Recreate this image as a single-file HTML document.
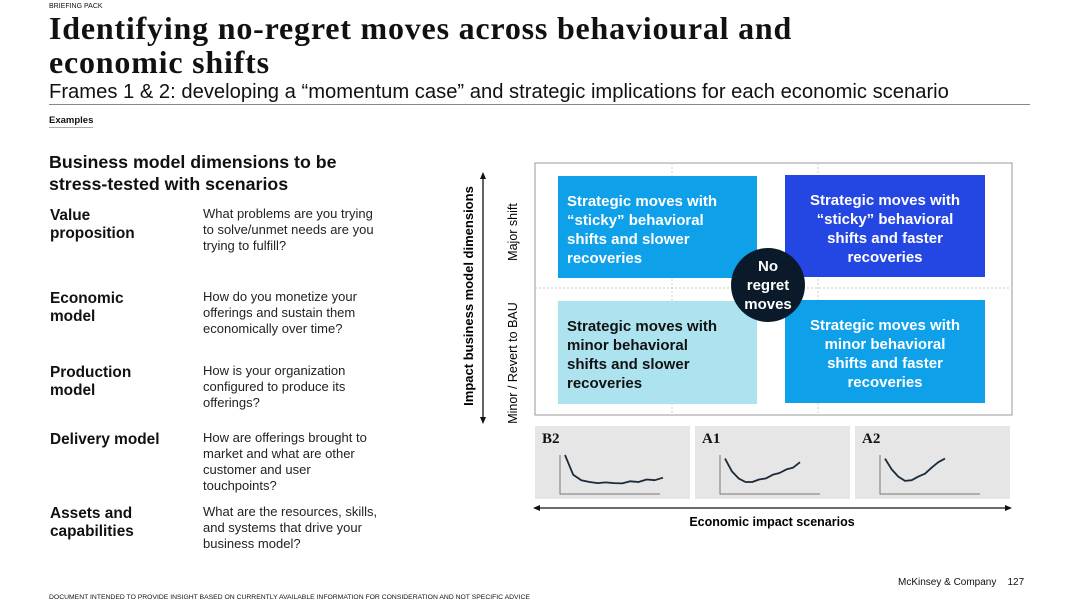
<!DOCTYPE html>
<html><head><meta charset="utf-8"><style>
body{margin:0;width:1080px;height:607px;background:#fff;position:relative;overflow:hidden;font-family:"Liberation Sans",sans-serif;color:#111}
.a{position:absolute}
.lab{font-weight:bold;font-size:15.4px;line-height:18px;left:50px}
.desc{font-size:13px;line-height:16px;left:203px;color:#222}
.q{position:absolute;font-weight:bold;font-size:15px;line-height:19px;padding:16px 9px;box-sizing:border-box;color:#fff}
.pan{position:absolute;top:426px;width:155px;height:73px;background:#e6e6e6}
.pan span{position:absolute;left:7px;top:5px;font-family:"Liberation Serif",serif;font-weight:bold;font-size:15px}
</style></head><body>
<div class="a" style="left:49px;top:3px;font-size:7px">BRIEFING PACK</div>
<div class="a" style="left:49px;top:11px;font-family:'Liberation Serif',serif;font-weight:bold;font-size:32px;letter-spacing:0.8px;line-height:34px;width:1000px">Identifying no-regret moves across behavioural and<br>economic shifts</div>
<div class="a" style="left:49px;top:80px;font-size:20.2px;line-height:24px;white-space:nowrap">Frames 1 &amp; 2: developing a “momentum case” and strategic implications for each economic scenario</div>
<div class="a" style="left:49px;top:104px;width:981px;height:1px;background:#888"></div>
<div class="a" style="left:49px;top:115px;font-size:9.5px;font-weight:bold;border-bottom:1px solid #aaa;padding-bottom:1px">Examples</div>
<div class="a" style="left:49px;top:151px;font-size:17.8px;font-weight:bold;line-height:22px">Business model dimensions to be<br>stress-tested with scenarios</div>
<div class="a lab" style="top:207px">Value<br>proposition</div>
<div class="a desc" style="top:206px">What problems are you trying<br>to solve/unmet needs are you<br>trying to fulfill?</div>
<div class="a lab" style="top:290px">Economic<br>model</div>
<div class="a desc" style="top:289px">How do you monetize your<br>offerings and sustain them<br>economically over time?</div>
<div class="a lab" style="top:364px">Production<br>model</div>
<div class="a desc" style="top:363px">How is your organization<br>configured to produce its<br>offerings?</div>
<div class="a lab" style="top:431px">Delivery model</div>
<div class="a desc" style="top:430px">How are offerings brought to<br>market and what are other<br>customer and user<br>touchpoints?</div>
<div class="a lab" style="top:505px">Assets and<br>capabilities</div>
<div class="a desc" style="top:504px">What are the resources, skills,<br>and systems that drive your<br>business model?</div>

<svg class="a" style="left:0;top:0" width="1080" height="607">
<rect x="535" y="163" width="477" height="252" fill="none" stroke="#999"/>
<line x1="672" y1="163" x2="672" y2="415" stroke="#ccc" stroke-dasharray="2,2"/>
<line x1="818" y1="163" x2="818" y2="415" stroke="#ccc" stroke-dasharray="2,2"/>
<line x1="535" y1="288" x2="1012" y2="288" stroke="#ccc" stroke-dasharray="2,2"/>
<line x1="483" y1="176" x2="483" y2="420" stroke="#111" stroke-width="1.3"/>
<polygon points="483,172 480,179 486,179" fill="#111"/><polygon points="483,424 480,417 486,417" fill="#111"/>
<text transform="translate(473,296) rotate(-90)" text-anchor="middle" font-size="13" font-weight="bold" font-family="Liberation Sans">Impact business model dimensions</text>
<text transform="translate(517,232) rotate(-90)" text-anchor="middle" font-size="12.5" font-family="Liberation Sans">Major shift</text>
<text transform="translate(517,363) rotate(-90)" text-anchor="middle" font-size="12.5" font-family="Liberation Sans">Minor / Revert to BAU</text>
<line x1="537" y1="508" x2="1008" y2="508" stroke="#111" stroke-width="1.3"/>
<polygon points="533,508 540,505 540,511" fill="#111"/><polygon points="1012,508 1005,505 1005,511" fill="#111"/>
<text x="772" y="526" text-anchor="middle" font-size="12.5" font-weight="bold" font-family="Liberation Sans">Economic impact scenarios</text>
</svg>

<div class="q" style="left:558px;top:176px;width:199px;height:102px;background:#0fa0ea;padding-right:25px">Strategic moves with “sticky” behavioral shifts and slower recoveries</div>
<div class="q" style="left:785px;top:175px;width:200px;height:102px;background:#2447e3;text-align:center;padding-left:18px;padding-right:18px">Strategic moves with “sticky” behavioral shifts and faster recoveries</div>
<div class="q" style="left:558px;top:301px;width:199px;height:103px;background:#ade3ef;color:#111;padding-right:25px">Strategic moves with minor behavioral shifts and slower recoveries</div>
<div class="q" style="left:785px;top:300px;width:200px;height:103px;background:#0fa0ea;text-align:center;padding-left:18px;padding-right:18px">Strategic moves with minor behavioral shifts and faster recoveries</div>
<div class="a" style="left:731px;top:248px;width:74px;height:74px;border-radius:50%;background:#0b1a2b;color:#fff;font-weight:bold;font-size:15px;line-height:19px;text-align:center;box-sizing:border-box;padding-top:9px">No<br>regret<br>moves</div>

<div class="pan" style="left:535px"><span>B2</span></div>
<div class="pan" style="left:695px"><span>A1</span></div>
<div class="pan" style="left:855px"><span>A2</span></div>
<svg id="curves" class="a" style="left:0;top:0" width="1080" height="607"></svg>

<div class="a" style="left:898px;top:577px;font-size:10px">McKinsey &amp; Company &nbsp;&nbsp;&nbsp;127</div>
<div class="a" style="left:49px;top:594px;font-size:6.8px">DOCUMENT INTENDED TO PROVIDE INSIGHT BASED ON CURRENTLY AVAILABLE INFORMATION FOR CONSIDERATION AND NOT SPECIFIC ADVICE</div>
<script>
// mini recovery curves: values 0..1 (1 = top of mini chart), sampled evenly across time
const scenarios = ["B2","A1","A2"];
const b2Values = [1.0,0.45,0.3,0.25,0.22,0.24,0.22,0.21,0.27,0.25,0.32,0.3,0.37];
const a1Values = [0.9,0.55,0.35,0.25,0.25,0.32,0.35,0.45,0.5,0.6,0.65,0.8];
const a2Values = [0.9,0.6,0.4,0.28,0.3,0.4,0.48,0.65,0.8,0.9];
const series=[b2Values,a1Values,a2Values];
const panelX=[535,695,855];
const svg=document.getElementById('curves');
const NS='http://www.w3.org/2000/svg';
series.forEach((vals,i)=>{
  const x0=panelX[i]+25, y0=494, y1=460;
  const ax=document.createElementNS(NS,'path');
  ax.setAttribute('d',`M${x0},${y1-5} V${y0} H${x0+100}`);
  ax.setAttribute('fill','none');ax.setAttribute('stroke','#777');ax.setAttribute('stroke-width','1');
  
  
  svg.appendChild(ax);
  const xs=k=>x0+5+k*((i==0?98:i==1?75:60))/(vals.length-1);
  const ys=v=>y0-3-v*(y0-3-(y1-5));
  const p=document.createElementNS(NS,'path');
  p.setAttribute('d',vals.map((v,k)=>(k?'L':'M')+xs(k).toFixed(1)+','+ys(v).toFixed(1)).join(' '));
  p.setAttribute('fill','none');p.setAttribute('stroke','#1b2a3a');p.setAttribute('stroke-width','1.8');p.setAttribute('stroke-linejoin','round');
  
  
  svg.appendChild(p);
});
</script>
</body></html>
